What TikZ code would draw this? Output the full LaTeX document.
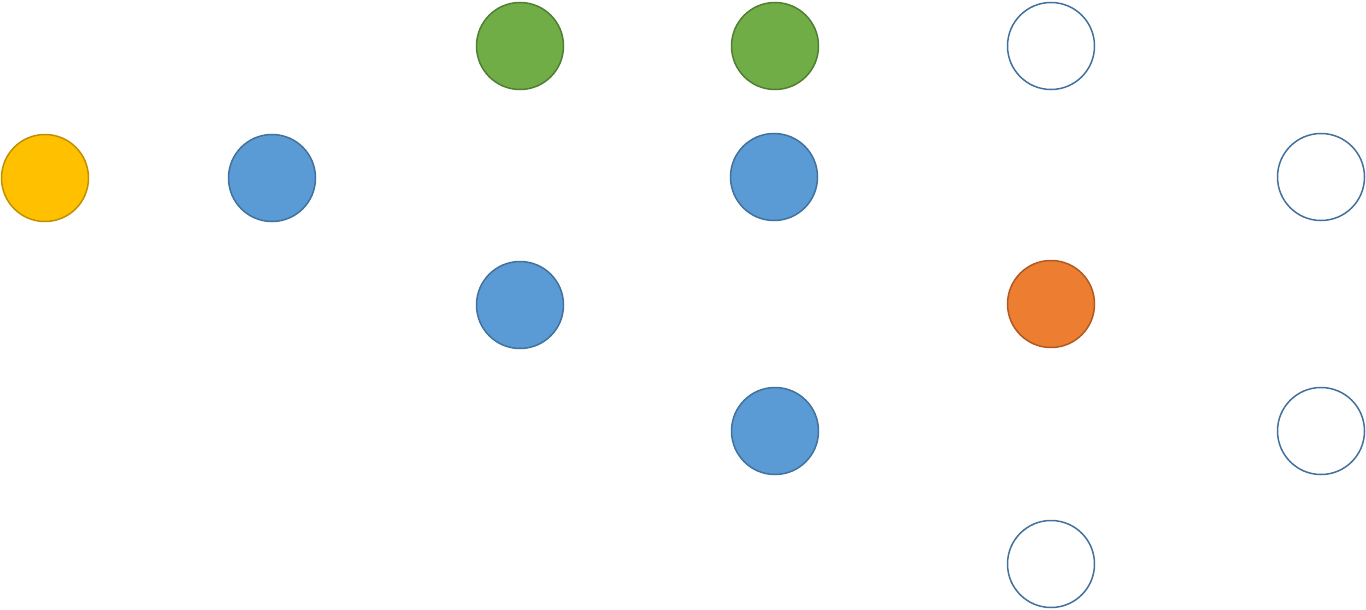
\documentclass[tikz,border=0pt]{standalone}
\definecolor{amarelo}{HTML}{FFC000}
\definecolor{amareloB}{HTML}{BF9000}
\definecolor{azul}{HTML}{5B9BD5}
\definecolor{azulB}{HTML}{41719C}
\definecolor{verde}{HTML}{70AD47}
\definecolor{verdeB}{HTML}{507E32}
\definecolor{laranja}{HTML}{ED7D31}
\definecolor{laranjaB}{HTML}{AE5A21}
\begin{document}
\begin{tikzpicture}[x=1pt, y=-1pt,
  no/.style={circle, minimum size=87pt, inner sep=0pt, line width=1.5pt}]
\useasboundingbox (0,0) rectangle (1366,610);
\begin{scope}
  % entrada
  \node[no, fill=amarelo, draw=amareloB] (ent) at (45,178) {};
  \node[no, fill=azul, draw=azulB] (a1) at (272,178) {};

  % camada intermediaria
  \node[no, fill=verde, draw=verdeB] (v1) at (520,46) {};
  \node[no, fill=azul, draw=azulB] (a2) at (520,305) {};
  \node[no, fill=verde, draw=verdeB] (v2) at (775,46) {};
  \node[no, fill=azul, draw=azulB] (a3) at (774,177) {};
  \node[no, fill=azul, draw=azulB] (a4) at (775,431) {};

  % saida
  \node[no, fill=laranja, draw=laranjaB] (lar) at (1051,304) {};
  \foreach \n/\p in {b1/{(1051,46)}, b2/{(1051,564)}, b3/{(1321,177)}, b4/{(1321,431)}}
    \node[no, fill=white, draw=azulB] (\n) at \p {};
\end{scope}
\end{tikzpicture}
\end{document}
